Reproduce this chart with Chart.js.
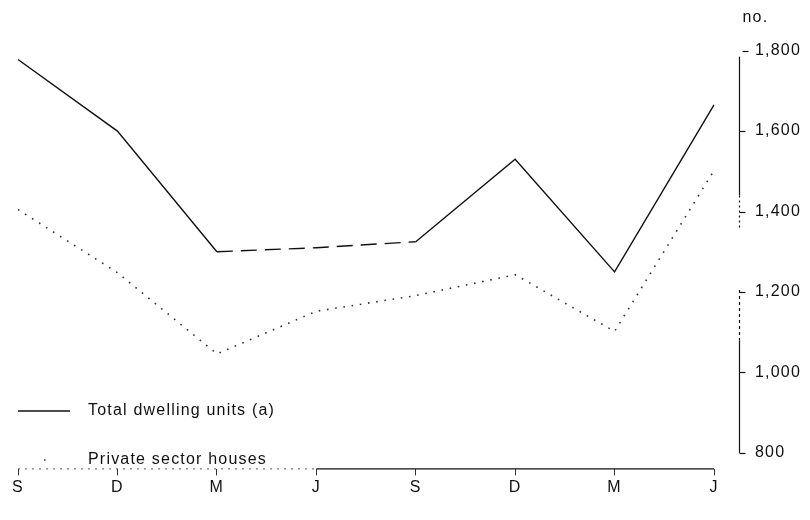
<!DOCTYPE html>
<html>
<head>
<meta charset="utf-8">
<script src="https://cdn.jsdelivr.net/npm/chart.js@4"></script>
<style>
  html, body { margin: 0; padding: 0; background: #fff; }
  canvas { display: block; }
</style>
</head>
<body>
<canvas id="chart" width="810" height="520"></canvas>
<script>
// Quarter labels along the bottom axis
const periods = ['S', 'D', 'M', 'J', 'S', 'D', 'M', 'J'];

// Series values (number of units)
const totalDwellingUnits = [1778, 1600, 1300, 1310, 1325, 1530, 1250, 1665];
const privateSectorHouses = [1405, 1248, 1046, 1152, 1191, 1243, 1102, 1502];

// Right-hand axis tick values
const yTickValues = [800, 1000, 1200, 1400, 1600, 1800];

const seriesNames = ['Total dwelling units (a)', 'Private sector houses'];
const unitLabel = 'no.';

const FONT = "'Liberation Sans', Arial, Helvetica, sans-serif";
const FONT_SIZE = 16;
const TRACKING = '1.2px';
const INK = '#111';

// Axes, unit label and key drawn straight onto the canvas
const decorations = {
  id: 'decorations',
  beforeDraw(chart) {
    chart.ctx.letterSpacing = TRACKING;
  },
  afterDraw(chart) {
    const ctx = chart.ctx;
    const x = chart.scales.x;
    const y = chart.scales.y;
    const area = chart.chartArea;
    ctx.save();
    ctx.letterSpacing = TRACKING;

    // bottom axis line: broken on the left, solid on the right
    const ax = area.bottom - 0.5;
    const xStart = x.getPixelForValue(0);
    const xMid = x.getPixelForValue(3);
    const xEnd = x.getPixelForValue(periods.length - 1);
    ctx.strokeStyle = '#555';
    ctx.lineWidth = 1;
    ctx.setLineDash([2, 5]);
    ctx.beginPath();
    ctx.moveTo(xStart, ax);
    ctx.lineTo(xMid, ax);
    ctx.stroke();
    ctx.setLineDash([]);
    ctx.strokeStyle = INK;
    ctx.lineWidth = 1.2;
    ctx.beginPath();
    ctx.moveTo(xMid, ax);
    ctx.lineTo(xEnd, ax);
    ctx.stroke();

    // right-hand value axis
    const vx = Math.round(area.right + 25) + 0.5;
    const seg = (from, to, dash) => {
      ctx.setLineDash(dash);
      ctx.beginPath();
      ctx.moveTo(vx, y.getPixelForValue(from));
      ctx.lineTo(vx, y.getPixelForValue(to));
      ctx.stroke();
    };
    ctx.strokeStyle = INK;
    ctx.lineWidth = 1.2;
    seg(1785, 1440, []);
    seg(1440, 1360, [2, 3]);
    seg(1205, 1080, [3, 3]);
    seg(1080, 800, []);
    ctx.setLineDash([]);
    y.ticks.forEach(t => {
      const py = Math.round(y.getPixelForValue(t.value)) + 0.5;
      const x0 = t.value === y.max ? vx + 3 : vx;
      ctx.beginPath();
      ctx.moveTo(x0, py);
      ctx.lineTo(x0 + 6, py);
      ctx.stroke();
    });

    // unit label above the axis
    ctx.fillStyle = INK;
    ctx.font = FONT_SIZE + 'px ' + FONT;
    ctx.textAlign = 'left';
    ctx.textBaseline = 'middle';
    ctx.fillText(unitLabel, vx + 3, 18);

    // key
    const keyX0 = 18, keyX1 = 70, textX = 88;
    const row1 = 411, row2 = 460;
    ctx.strokeStyle = INK;
    ctx.lineWidth = 1.4;
    ctx.beginPath();
    ctx.moveTo(keyX0, row1);
    ctx.lineTo(keyX1, row1);
    ctx.stroke();
    ctx.fillText(seriesNames[0], textX, row1);

    ctx.strokeStyle = '#333';
    ctx.lineWidth = 1.6;
    ctx.beginPath();
    ctx.moveTo(44, row2);
    ctx.lineTo(45.6, row2);
    ctx.stroke();
    ctx.fillText(seriesNames[1], textX, row2);

    ctx.restore();
  }
};

new Chart(document.getElementById('chart'), {
  type: 'line',
  data: {
    labels: periods,
    datasets: [
      {
        label: seriesNames[0],
        data: totalDwellingUnits,
        borderColor: INK,
        borderWidth: 1.4,
        pointRadius: 0,
        tension: 0,
        fill: false,
        segment: {
          borderDash: ctx => (ctx.p0DataIndex >= 2 && ctx.p0DataIndex <= 3) ? [16, 8] : undefined
        }
      },
      {
        label: seriesNames[1],
        data: privateSectorHouses,
        borderColor: '#333',
        borderWidth: 1.6,
        borderDash: [1.6, 6.7],
        pointRadius: 0,
        tension: 0,
        fill: false
      }
    ]
  },
  options: {
    responsive: false,
    animation: false,
    devicePixelRatio: 1,
    layout: { padding: { left: 18, top: 36, right: 0, bottom: 0 } },
    plugins: {
      legend: { display: false },
      tooltip: { enabled: false }
    },
    scales: {
      x: {
        type: 'category',
        offset: false,
        border: { display: false },
        grid: {
          display: true,
          drawOnChartArea: false,
          drawTicks: true,
          tickLength: 6,
          color: '#333',
          lineWidth: 1
        },
        ticks: {
          color: INK,
          font: { size: FONT_SIZE, family: FONT },
          padding: 3,
          maxRotation: 0,
          autoSkip: false
        },
        afterFit(scale) { scale.height = 30; }
      },
      y: {
        position: 'right',
        min: 759,
        max: 1800,
        border: { display: false },
        grid: { display: false, drawTicks: false },
        ticks: {
          color: INK,
          font: { size: FONT_SIZE, family: FONT },
          padding: 41,
          callback: v => Number(v).toLocaleString('en-US')
        },
        afterBuildTicks(scale) {
          scale.ticks = yTickValues.map(v => ({ value: v }));
        },
        afterFit(scale) { scale.width = 96; }
      }
    }
  },
  plugins: [decorations]
});
</script>
</body>
</html>
